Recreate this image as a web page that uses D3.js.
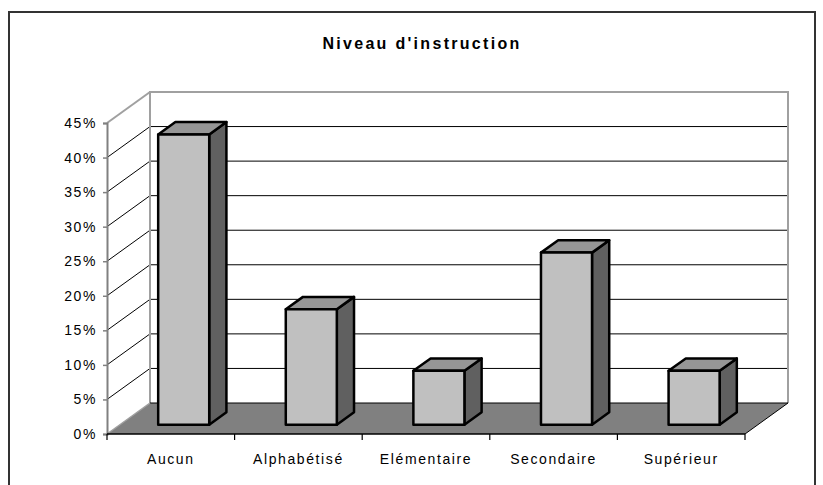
<!DOCTYPE html>
<html><head><meta charset="utf-8">
<script src="https://cdn.jsdelivr.net/npm/d3@7"></script>
<style>
html,body{margin:0;padding:0;background:#fff;}
svg{display:block;}
text{font-family:"Liberation Sans",Arial,sans-serif;fill:#000;}
</style></head>
<body>
<svg id="c" width="823" height="485"></svg>
<script>
const title = "Niveau d'instruction";
const categories = ["Aucun","Alphabétisé","Elémentaire","Secondaire","Supérieur"];
const values = [42, 16.7, 7.8, 24.9, 7.8];
const yTicks = [0,5,10,15,20,25,30,35,40,45];
const yTickLabels = ["0%","5%","10%","15%","20%","25%","30%","35%","40%","45%"];

const svg = d3.select("#c");
const x0 = 107, x1 = 745, yBase = 434, yTop = 123;
const DX = 43, DY = -31;          // depth vector of the 3D box
const f0 = 0.3, f1 = 0.7;        // bar depth placement

const x = d3.scaleBand().domain(categories).range([x0, x1]).paddingInner(0.6).paddingOuter(0.3);
const y = d3.scaleLinear().domain([0, 45]).range([yBase, yTop]);
const xs = d3.scaleLinear().domain([0, categories.length]).range([x0, x1]);

// outer frame
svg.append("rect").attr("x", 9).attr("y", 12).attr("width", 806).attr("height", 490)
  .attr("fill", "#fff").attr("stroke", "#333").attr("stroke-width", 2);

// title
svg.append("text").attr("x", 422).attr("y", 49).attr("text-anchor", "middle")
  .style("font-size", "16px").style("font-weight", "bold").style("letter-spacing", "2.3px")
  .text(title);

const P = (px, py, f) => [px + f * DX, py + f * DY];
const line = d3.line();

// back wall
const bw = [P(x0, yBase, 1), P(x1, yBase, 1), P(x1, yTop, 1), P(x0, yTop, 1)];
svg.append("path").attr("d", line(bw) + "Z").attr("fill", "#fff").attr("stroke", "none");

// gridlines on back wall and side wall
const g = svg.append("g");
yTicks.filter(t => t > 0 && t < 45).forEach(t => {
  g.append("path").attr("d", line([P(x0, y(t), 1), P(x1, y(t), 1)]))
    .attr("stroke", "#000").attr("stroke-width", 1).attr("fill", "none");
  g.append("path").attr("d", line([P(x0, y(t), 0), P(x0, y(t), 1)]))
    .attr("stroke", "#000").attr("stroke-width", 1).attr("fill", "none");
});

// wall borders (gray)
const wallStroke = "#a0a0a0";
svg.append("path").attr("d", line([P(x0, y(0), 1), P(x0, y(45), 1), P(x1, y(45), 1), P(x1, y(0), 1)]))
  .attr("stroke", wallStroke).attr("stroke-width", 2).attr("fill", "none");
svg.append("path").attr("d", line([P(x0, y(45), 0), P(x0, y(45), 1)]))
  .attr("stroke", wallStroke).attr("stroke-width", 2).attr("fill", "none");

// floor
const floor = [P(x0, yBase, 0), P(x1, yBase, 0), P(x1, yBase, 1), P(x0, yBase, 1)];
svg.append("path").attr("d", line(floor) + "Z").attr("fill", "#808080").attr("stroke", "none");
svg.append("path").attr("d", line([P(x1, yBase, 0), P(x1, yBase, 1), P(x0, yBase, 1)]))
  .attr("stroke", "#000").attr("stroke-width", 1).attr("fill", "none");
svg.append("path").attr("d", line([P(x0, yBase, 0), P(x0, yBase, 1)]))
  .attr("stroke", wallStroke).attr("stroke-width", 1.5).attr("fill", "none");

// bars
const bars = svg.append("g");
const ddx = (f1 - f0) * DX, ddy = (f1 - f0) * DY;
categories.forEach((c, i) => {
  const v = values[i];
  const [bx, bt] = P(x(c), y(v), f0);
  const [, bb] = P(x(c), y(0), f0);
  const w = x.bandwidth();
  const sty = s => s.attr("stroke", "#000").attr("stroke-width", 2.5).attr("stroke-linejoin", "round");
  bars.append("path").attr("d", line([[bx + w, bt], [bx + w + ddx, bt + ddy], [bx + w + ddx, bb + ddy], [bx + w, bb]]) + "Z")
    .attr("fill", "#606060").call(sty);
  bars.append("path").attr("d", line([[bx, bt], [bx + w, bt], [bx + w + ddx, bt + ddy], [bx + ddx, bt + ddy]]) + "Z")
    .attr("fill", "#969696").call(sty);
  bars.append("rect").attr("x", bx).attr("y", bt).attr("width", w).attr("height", bb - bt)
    .attr("fill", "#c0c0c0").call(sty);
});

// y axis
const yAxis = svg.append("g").attr("transform", `translate(${x0},0)`)
  .call(d3.axisLeft(y).tickValues(yTicks).tickFormat((d, i) => yTickLabels[i]).tickSize(4).tickPadding(6));
yAxis.select(".domain").attr("stroke", "#808080").attr("stroke-width", 2);
yAxis.selectAll(".tick line").attr("stroke", "#808080").attr("stroke-width", 1.5);
yAxis.selectAll(".tick text").style("font-size", "14px").style("letter-spacing", "1.6px")
  .style("font-family", "'Liberation Sans', Arial, sans-serif").attr("fill", "#000");

// x axis line & ticks at category boundaries
svg.append("path").attr("d", line([[x0, yBase], [x1, yBase]])).attr("stroke", "#000").attr("stroke-width", 1.5);
d3.range(categories.length + 1).forEach(i => {
  svg.append("path").attr("d", line([[xs(i), yBase], [xs(i), yBase + 6]])).attr("stroke", "#000").attr("stroke-width", 1.2);
});
svg.append("g").selectAll("text").data(categories).join("text")
  .attr("x", d => x(d) + x.bandwidth() / 2).attr("y", 464).attr("text-anchor", "middle")
  .style("font-size", "14px").style("letter-spacing", "1.6px").text(d => d);
</script>
</body></html>
